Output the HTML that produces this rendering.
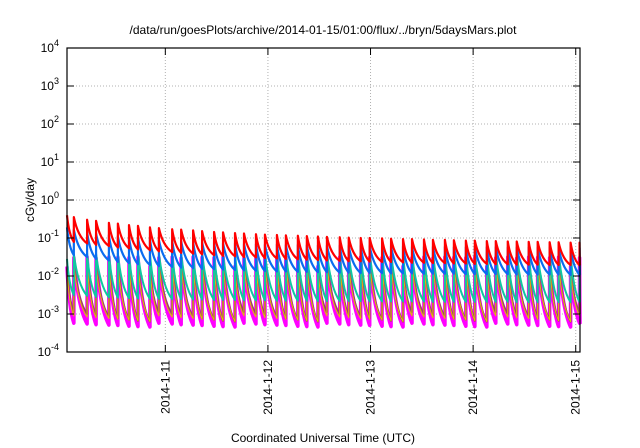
<!DOCTYPE html>
<html><head><meta charset="utf-8">
<style>
html,body{margin:0;padding:0;background:#fff;}
svg{display:block;font-family:"Liberation Sans",sans-serif;}
</style></head>
<body>
<svg id="chart" width="640" height="448" viewBox="0 0 640 448" xmlns="http://www.w3.org/2000/svg">
<text x="323" y="34" font-size="12" text-anchor="middle">/data/run/goesPlots/archive/2014-01-15/01:00/flux/../bryn/5daysMars.plot</text>
<text x="0" y="0" font-size="12" text-anchor="middle" transform="translate(34,200) rotate(-90)">cGy/day</text>
<text x="323" y="442" font-size="12" text-anchor="middle">Coordinated Universal Time (UTC)</text>
<g id="grid"></g>
<g id="series"></g>
<g id="axes"></g>
</svg>
<script>
const spikeTimes=[0,1.6,4.7,6.8,9.8,11.9,14.5,16.6,19.4,21.5,24.6,26.7,29.5,31.6,34.4,36.5,39.3,41.4,44.2,46.3,49.1,51.2,54.0,56.1,58.7,60.8,63.8,65.9,68.7,70.8,73.7,75.8,78.6,80.7,83.5,85.6,88.4,90.5,93.3,95.4,98.2,100.3,103.1,105.2,108.0,110.1,112.9,115.0,117.8,119.9];
const yTickExps=[-4,-3,-2,-1,0,1,2,3,4];
const xTickHours=[23,47,71,95,119];
const xTickLabels=["2014-1-11","2014-1-12","2014-1-13","2014-1-14","2014-1-15"];
const redPeaks=[-0.40,-0.45,-0.52,-0.55,-0.60,-0.62,-0.66,-0.68,-0.72,-0.74,-0.77,-0.78,-0.80,-0.82,-0.84,-0.85,-0.87,-0.88,-0.90,-0.91,-0.92,-0.93,-0.94,-0.95,-0.96,-0.97,-0.98,-0.99,-1.00,-1.00,-1.01,-1.02,-1.03,-1.03,-1.04,-1.05,-1.05,-1.06,-1.07,-1.07,-1.08,-1.08,-1.09,-1.09,-1.10,-1.10,-1.11,-1.11,-1.12,-1.12];
const redTroughs=[-1.10,-1.14,-1.18,-1.21,-1.25,-1.27,-1.30,-1.32,-1.35,-1.37,-1.39,-1.41,-1.43,-1.45,-1.47,-1.48,-1.50,-1.51,-1.53,-1.54,-1.55,-1.56,-1.57,-1.58,-1.59,-1.60,-1.61,-1.61,-1.62,-1.63,-1.63,-1.64,-1.65,-1.65,-1.66,-1.66,-1.67,-1.67,-1.68,-1.68,-1.69,-1.69,-1.70,-1.70,-1.70,-1.71,-1.71,-1.71,-1.72,-1.72];
const bluePeaks=[-0.72,-0.78,-0.84,-0.88,-0.92,-0.95,-0.98,-1.00,-1.03,-1.05,-1.07,-1.08,-1.10,-1.11,-1.12,-1.13,-1.14,-1.15,-1.16,-1.17,-1.17,-1.18,-1.18,-1.19,-1.19,-1.20,-1.20,-1.21,-1.21,-1.21,-1.22,-1.22,-1.22,-1.23,-1.23,-1.23,-1.23,-1.24,-1.24,-1.24,-1.24,-1.24,-1.25,-1.25,-1.25,-1.25,-1.25,-1.26,-1.26,-1.26];
const blueTroughs=[-1.45,-1.50,-1.55,-1.59,-1.63,-1.66,-1.69,-1.71,-1.74,-1.76,-1.78,-1.79,-1.81,-1.82,-1.83,-1.84,-1.85,-1.86,-1.87,-1.88,-1.88,-1.89,-1.89,-1.90,-1.90,-1.91,-1.91,-1.92,-1.92,-1.92,-1.93,-1.93,-1.93,-1.94,-1.94,-1.94,-1.94,-1.95,-1.95,-1.95,-1.95,-1.95,-1.96,-1.96,-1.96,-1.96,-1.96,-1.97,-1.97,-1.97];
const tealPeaks=[-1.55,-1.42,-1.40,-1.41,-1.38,-1.40,-1.42,-1.39,-1.40,-1.41,-1.38,-1.40,-1.42,-1.39,-1.40,-1.41,-1.38,-1.40,-1.42,-1.39,-1.40,-1.41,-1.38,-1.40,-1.42,-1.39,-1.40,-1.41,-1.38,-1.40,-1.42,-1.39,-1.40,-1.41,-1.38,-1.40,-1.42,-1.39,-1.40,-1.41,-1.38,-1.40,-1.42,-1.39,-1.40,-1.41,-1.38,-1.40,-1.42,-1.39];
const tealTroughs=[-2.50,-2.52,-2.55,-2.56,-2.57,-2.58,-2.59,-2.60,-2.60,-2.61,-2.61,-2.62,-2.62,-2.63,-2.63,-2.63,-2.64,-2.64,-2.64,-2.65,-2.65,-2.65,-2.65,-2.66,-2.66,-2.66,-2.66,-2.66,-2.67,-2.67,-2.67,-2.67,-2.67,-2.67,-2.68,-2.68,-2.68,-2.68,-2.68,-2.68,-2.68,-2.68,-2.69,-2.69,-2.69,-2.69,-2.69,-2.69,-2.69,-2.69];
const brownPeaks=[-1.80,-1.60,-1.58,-1.62,-1.60,-1.59,-1.61,-1.60];
const brownTroughs=[-2.95,-3.00,-3.05,-3.08,-3.12,-3.15,-3.18,-3.20];
const yellowPeaks=[-1.85,-1.70,-1.68,-1.72,-1.70,-1.69,-1.71,-1.70];
const yellowTroughs=[-3.05,-3.08,-3.10,-3.12,-3.14,-3.16,-3.18,-3.20];
const magentaPeaks=[-1.75,-1.52,-1.50,-1.53,-1.50,-1.51,-1.52,-1.50];
const magentaTroughs=[-3.24,-3.26,-3.28,-3.29,-3.30,-3.32,-3.33,-3.34];

const NS="http://www.w3.org/2000/svg";
const X0=67,X1=580,Y0=48,Y1=352,H0=0,H1=120;
function xs(h){return X0+(h-H0)/(H1-H0)*(X1-X0);}
function ys(e){return Y1-(e-(-4))/8*(Y1-Y0);}
function mk(tag,attrs,parent){const el=document.createElementNS(NS,tag);for(const k in attrs)el.setAttribute(k,attrs[k]);parent.appendChild(el);return el;}
const grid=document.getElementById('grid'),axes=document.getElementById('axes'),ser=document.getElementById('series');

yTickExps.forEach((e,i)=>{
  const y=ys(e);
  if(i>0&&i<yTickExps.length-1){const g=mk('line',{x1:X0,x2:X1,y1:y,y2:y,stroke:'#b0b0b0','stroke-width':1,'stroke-dasharray':'1,2'},grid);
  
  }
  const t1=mk('line',{x1:X0,x2:X0+7,y1:y,y2:y,stroke:'#000','stroke-width':1},axes);
  
  
  const t2=mk('line',{x1:X1-7,x2:X1,y1:y,y2:y,stroke:'#000','stroke-width':1},axes);
  
  
  const tx=mk('text',{x:59,y:y+4,'font-size':12,'text-anchor':'end'},axes);
  
  
  tx.textContent='10';
  const sp=mk('tspan',{dy:-6,'font-size':9},tx);sp.textContent=String(e);
});
xTickHours.forEach((h,i)=>{
  const x=xs(h);
  const g=mk('line',{x1:x,x2:x,y1:Y0,y2:Y1,stroke:'#b0b0b0','stroke-width':1,'stroke-dasharray':'1,2'},grid);
  
  
  const t=mk('line',{x1:x,x2:x,y1:Y1-7,y2:Y1,stroke:'#000','stroke-width':1},axes);
  
  
  const t2=mk('line',{x1:x,x2:x,y1:Y0,y2:Y0+7,stroke:'#000','stroke-width':1},axes);
  
  
  const tx=mk('text',{x:0,y:0,'font-size':12,'text-anchor':'end',transform:`translate(${x+4},${Y1+8}) rotate(-90)`},axes);
  
  
  tx.textContent=xTickLabels[i];
});
const fr=mk('rect',{x:X0,y:Y0,width:X1-X0,height:Y1-Y0,fill:'none',stroke:'#000','stroke-width':1.2},axes);



function drawSeries(name,peaks,troughs,color,w){
  let d='';
  for(let i=0;i<spikeTimes.length;i++){
    const p=peaks[i%peaks.length],tr=troughs[i%troughs.length];
    const t0=spikeTimes[i],t1=(i+1<spikeTimes.length)?spikeTimes[i+1]:H1;
    const xa=xs(t0),ya=ys(p),xb=xs(t1),yb=ys(tr);
    if(i===0)d+=`M${xa},${ya}`;else d+=`L${xa},${ya}`;
    d+=`Q${xa+(xb-xa)*0.3},${ya+(yb-ya)*0.75} ${xb},${yb}`;
  }
  const el=mk('path',{d:d,fill:'none',stroke:color,'stroke-width':w,'stroke-linejoin':'round'},ser);
  
  
}
drawSeries('series-magenta',magentaPeaks,magentaTroughs,'#ff00ff',3.6);
drawSeries('series-brown',brownPeaks,brownTroughs,'#a03c70',2);
drawSeries('series-yellow',yellowPeaks,yellowTroughs,'#e0c000',1);
drawSeries('series-teal',tealPeaks,tealTroughs,'#10c8a0',2);
drawSeries('series-blue',bluePeaks,blueTroughs,'#0a6cf0',2.2);
drawSeries('series-red',redPeaks,redTroughs,'#ff0000',2.2);
</script>
</body></html>
